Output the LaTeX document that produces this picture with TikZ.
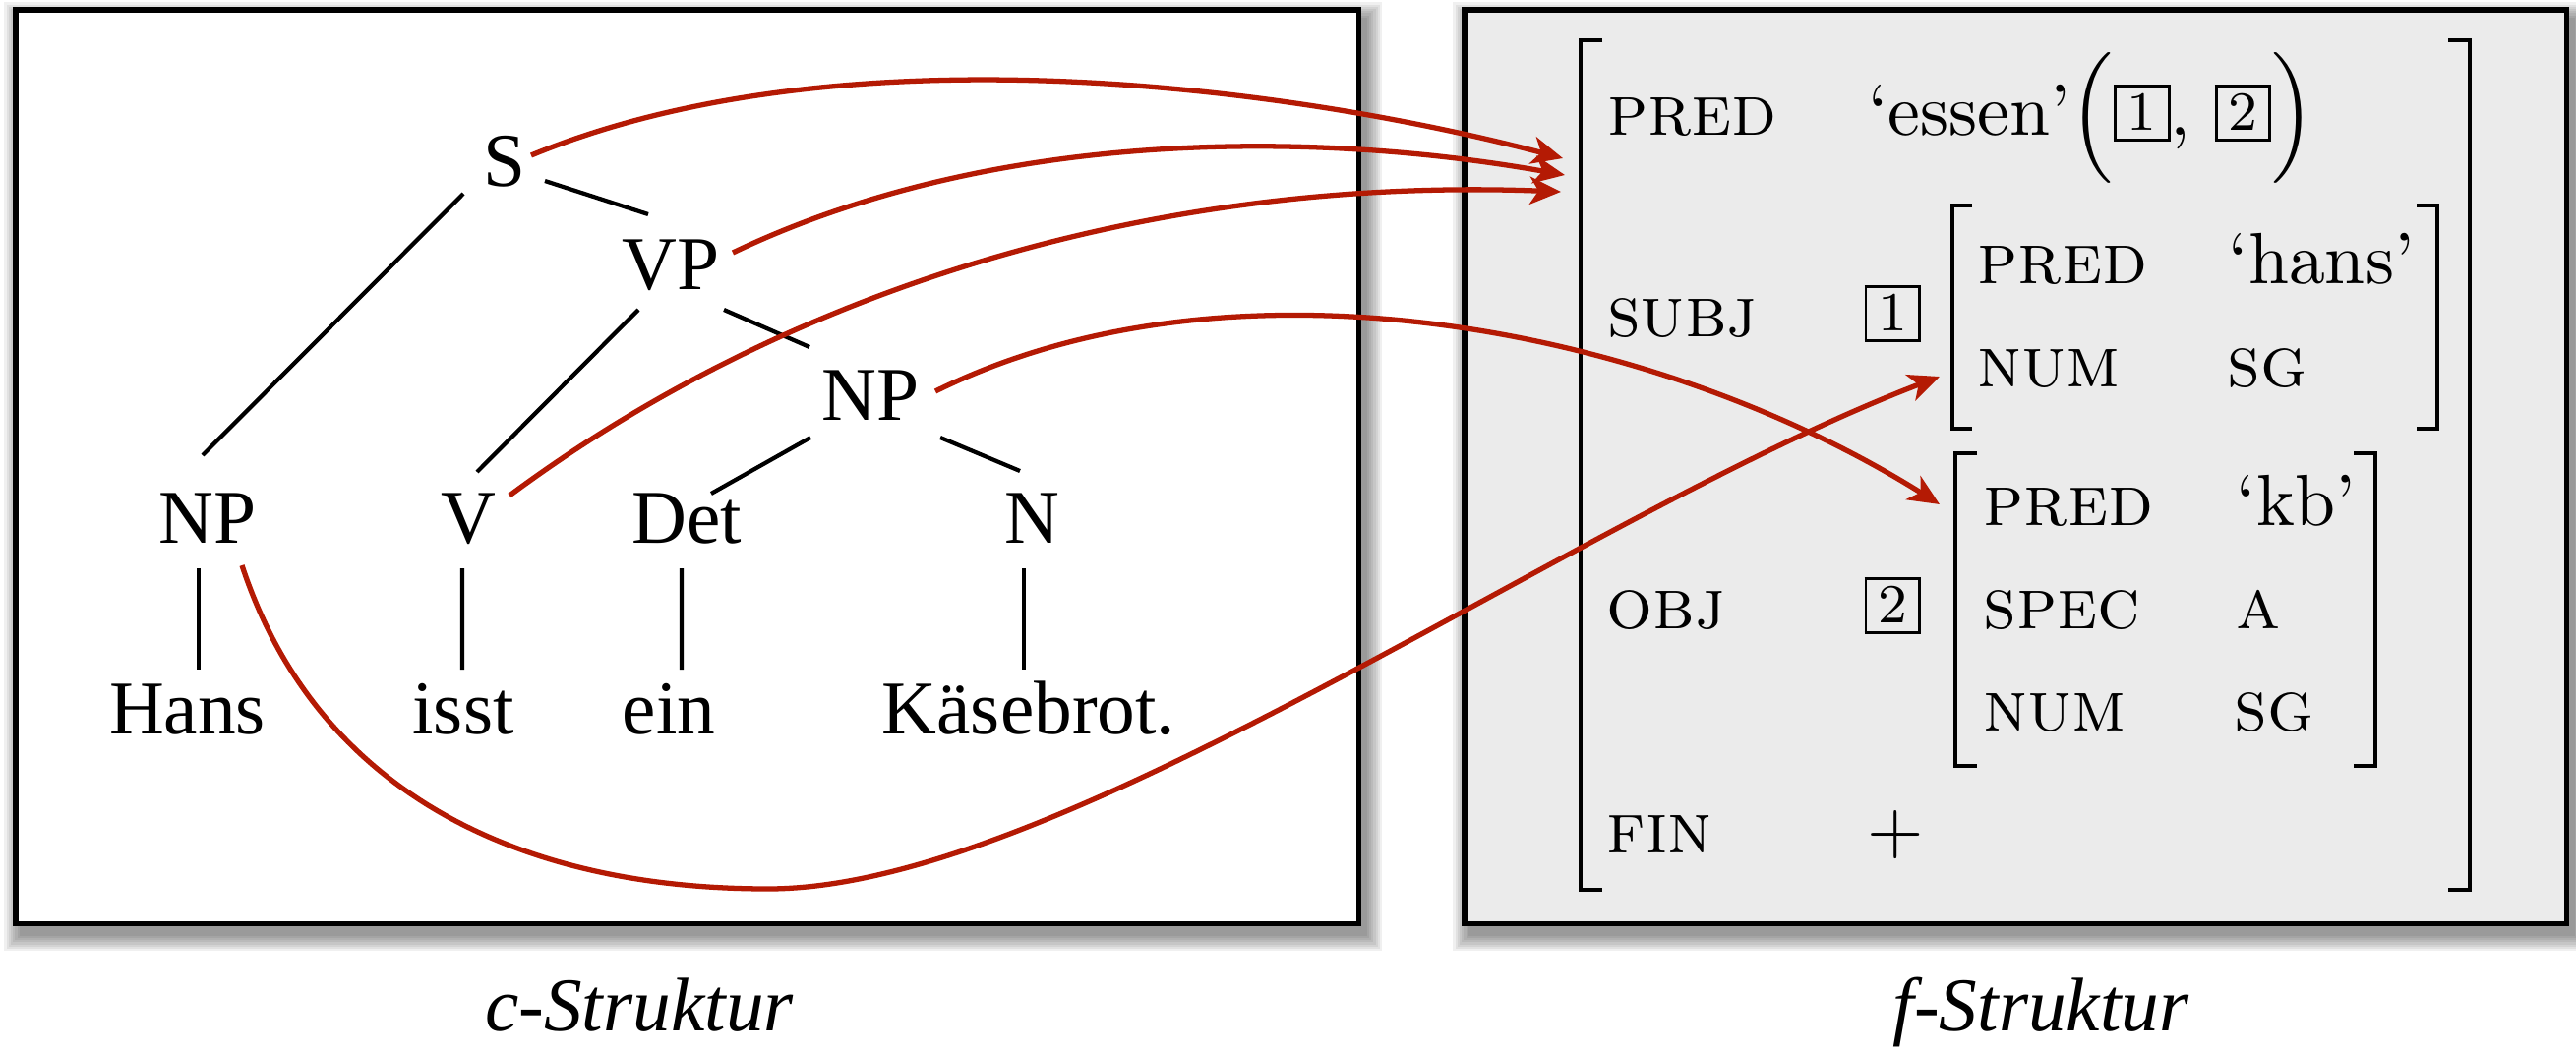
\documentclass[tikz,border=0pt]{standalone}
\usepackage{fontspec}
\newfontfamily\treefont{Liberation Serif}
\usetikzlibrary{arrows.meta,calc}
\definecolor{arrred}{RGB}{180,26,4}
\definecolor{fsgray}{RGB}{235,235,235}
\newcommand\fsbox[1]{{\setlength\fboxsep{0pt}\setlength\fboxrule{0.4pt}\fbox{\makebox[7pt]{\rule[-0.4pt]{0pt}{7pt}\raisebox{0.7pt}{\fontsize{7.6}{9}\selectfont #1}}}}}
\newcommand\boxshadow[2]{%
  \foreach \i in {1,...,8}{%
    \fill[black,opacity=0.06] ($(#1)+(0.06-0.022*\i,-0.10-0.022*\i)$) rectangle ($(#2)+(0.06+0.022*\i,-0.10+0.022*\i)$);}}
\begin{document}
\begin{tikzpicture}[
  tr/.style={font=\treefont\fontsize{22}{26}\selectfont, inner sep=0pt, anchor=base},
  lbl/.style={font=\treefont\itshape\fontsize{22}{26}\selectfont, inner sep=0pt, anchor=base},
  fs/.style={scale=2.1, transform shape, inner sep=0pt, anchor=base west},
  edge/.style={line width=1.2pt},
  link/.style={draw=arrred, line width=1.5pt, -{Stealth[length=9pt,width=8pt,inset=2.5pt]}},
  brk/.style={line width=1.25pt},
  frame/.style={line width=1.5pt},
]
\useasboundingbox (0,0) rectangle (26.19,10.70);
\fill[white] (0,0) rectangle (26.19,10.70);

% boxes with soft shadows
\coordinate (lsw) at (0.16,1.305);
\coordinate (lne) at (13.815,10.60);
\coordinate (rsw) at (14.89,1.305);
\coordinate (rne) at (26.095,10.60);
\boxshadow{lsw}{lne}
\boxshadow{rsw}{rne}
\draw[frame, fill=white] (lsw) rectangle (lne);
\draw[frame, fill=fsgray] (rsw) rectangle (rne);

% c-structure tree
\node[tr] (S) at (5.13,8.81) {S};
\node[tr] (VP) at (6.82,7.76) {VP};
\node[tr] (NPo) at (8.85,6.43) {NP};
\node[tr] (NPs) at (2.11,5.18) {NP};
\node[tr] (V) at (4.76,5.18) {V};
\node[tr] (Det) at (6.98,5.18) {Det};
\node[tr] (N) at (10.49,5.18) {N};
\node[tr] (Hans) at (1.905,3.24) {Hans};
\node[tr] (isst) at (4.71,3.24) {isst};
\node[tr] (ein) at (6.80,3.24) {ein};
\node[tr] (Kaese) at (10.46,3.24) {Käsebrot.};

\draw[edge] ($(S.base)+(0.41,0.05)$) -- ($(VP.base)+(-0.23,0.76)$);
\draw[edge] ($(S.base)+(-0.42,-0.08)$) -- ($(NPs.base)+(-0.05,0.89)$);
\draw[edge] ($(VP.base)+(-0.33,-0.21)$) -- ($(V.base)+(0.09,0.72)$);
\draw[edge] ($(VP.base)+(0.54,-0.21)$) -- ($(NPo.base)+(-0.62,0.74)$);
\draw[edge] ($(NPo.base)+(-0.61,-0.18)$) -- ($(Det.base)+(0.25,0.50)$);
\draw[edge] ($(NPo.base)+(0.71,-0.18)$) -- ($(N.base)+(-0.12,0.73)$);
\draw[edge] ($(NPs.base)+(-0.09,-0.26)$) -- ($(Hans.base)+(0.115,0.65)$);
\draw[edge] ($(V.base)+(-0.06,-0.26)$) -- ($(isst.base)+(-0.01,0.65)$);
\draw[edge] ($(Det.base)+(-0.05,-0.26)$) -- ($(ein.base)+(0.13,0.65)$);
\draw[edge] ($(N.base)+(-0.08,-0.26)$) -- ($(Kaese.base)+(-0.05,0.65)$);

% f-structure
\node[fs] (p1) at (16.325,9.32) {\textsc{pred}};
\node[fs] (essen) at (18.976,9.32) {‘essen’$\Big($\fsbox{1}, \fsbox{2}$\Big)$};
\node[fs] (subj) at (16.325,7.28) {\textsc{subj}};
\node[fs] (b1) at (18.94,7.28) {\fsbox{1}};
\node[fs] (p2) at (20.09,7.82) {\textsc{pred}};
\node[fs] (hans) at (22.64,7.82) {‘hans’};
\node[fs] (n2) at (20.09,6.77) {\textsc{num}};
\node[fs] (sg2) at (22.63,6.77) {\textsc{sg}};
\node[fs] (obj) at (16.32,4.31) {\textsc{obj}};
\node[fs] (b2) at (18.94,4.31) {\fsbox{2}};
\node[fs] (p3) at (20.15,5.36) {\textsc{pred}};
\node[fs] (kb) at (22.72,5.36) {‘kb’};
\node[fs] (spec) at (20.15,4.31) {\textsc{spec}};
\node[fs] (a3) at (22.72,4.31) {\textsc{a}};
\node[fs] (n3) at (20.15,3.27) {\textsc{num}};
\node[fs] (sg3) at (22.70,3.27) {\textsc{sg}};
\node[fs] (fin) at (16.32,2.03) {\textsc{fin}};
\node[fs] (plus) at (18.97,2.03) {$+$};

% brackets
\draw[brk] (16.29,10.29) -- (16.07,10.29) -- (16.07,1.65) -- (16.29,1.65);
\draw[brk] (24.89,10.29) -- (25.11,10.29) -- (25.11,1.65) -- (24.89,1.65);
\draw[brk] (20.05,8.61) -- (19.85,8.61) -- (19.85,6.34) -- (20.05,6.34);
\draw[brk] (24.57,8.61) -- (24.78,8.61) -- (24.78,6.34) -- (24.57,6.34);
\draw[brk] (20.10,6.09) -- (19.88,6.09) -- (19.88,2.91) -- (20.10,2.91);
\draw[brk] (23.93,6.09) -- (24.15,6.09) -- (24.15,2.91) -- (23.93,2.91);

% arrow targets
\coordinate (t1) at (15.89,9.09);
\coordinate (t2) at (15.91,8.92);
\coordinate (t3) at (15.87,8.75);
\coordinate (tSubj) at (19.72,6.87);
\coordinate (tObj) at (19.72,5.57);
\coordinate (hb) at (7.81,1.66);

% mapping arrows
\draw[link] ($(S.base)+(0.27,0.31)$) .. controls (8.5,10.4) and (13.0,9.85) .. (t1);
\draw[link] ($(VP.base)+(0.63,0.37)$) .. controls (10.0,9.35) and (13.2,9.4) .. (t2);
\draw[link] ($(V.base)+(0.42,0.48)$) .. controls (8.2,7.9) and (12.0,8.9) .. (t3);
\draw[link] ($(NPo.base)+(0.66,0.29)$) .. controls (12.5,8.2) and (16.8,7.4) .. (tObj);
\draw[link] ($(NPs.base)+(0.35,-0.23)$) .. controls (3.2,2.7) and (5.2,1.66) .. (hb) .. controls (10.8,1.66) and (16.0,5.45) .. (tSubj);

% captions
\node[lbl] (cl) at (6.50,0.22) {c-Struktur};
\node[lbl] (fl) at (20.75,0.22) {f-Struktur};
\end{tikzpicture}
\end{document}
